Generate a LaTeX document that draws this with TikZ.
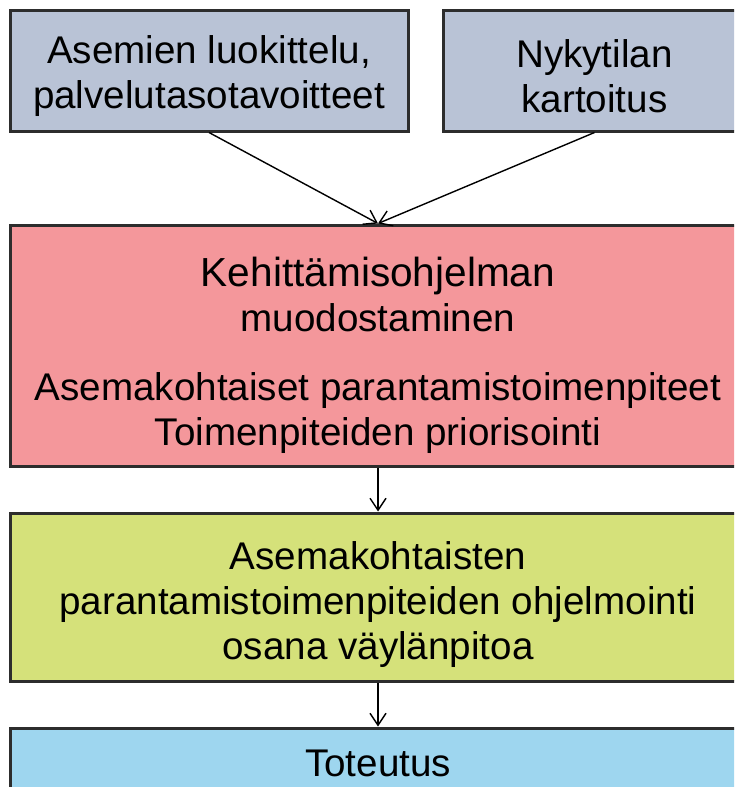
\documentclass[tikz,border=0pt]{standalone}
\usepackage{fontspec}
\setmainfont{Liberation Sans}
\usepackage{xcolor}
\definecolor{mygray}{RGB}{185,195,214}
\definecolor{myred}{RGB}{244,151,155}
\definecolor{mygreen}{RGB}{213,225,122}
\definecolor{myblue}{RGB}{158,214,239}
\definecolor{myline}{RGB}{45,45,45}
\usetikzlibrary{arrows.meta}
\newcommand{\dropline}[1]{\rule{0pt}{#1}}

\begin{document}
\begin{tikzpicture}[x=0.5pt,y=-0.5pt,
    box/.style={draw=myline, line width=1.5pt, inner sep=0pt, align=center,
      font=\fontsize{19.3}{22.5}\selectfont},
    flow/.style={-{Straight Barb[length=6pt,width=8pt]}, line width=0.7pt}]
        \clip (0,0) rectangle (734,787);
        \node[box, fill=mygray, minimum width=199pt, minimum height=60.5pt] (luokittelu) at (209,70.5)
          {\dropline{19.5pt}Asemien luokittelu,\\palvelutasotavoitteet};
        \node[box, fill=mygray, minimum width=151.5pt, minimum height=60.5pt] (kartoitus) at (594.5,70.5)
          {\dropline{19.5pt}Nykytilan\\kartoitus};

        \node[box, fill=myred, minimum width=368pt, minimum height=120.5pt] (ohjelma) at (378,345.5)
          {\fontsize{20.3}{23}\selectfont \dropline{24pt}Kehittämisohjelman\\muodostaminen\\[12pt]
           \fontsize{19.3}{21}\selectfont Asemakohtaiset parantamistoimenpiteet\\Toimenpiteiden priorisointi};

        \node[box, fill=mygreen, minimum width=368pt, minimum height=84pt] (ohjelmointi) at (378,597)
          {\dropline{21pt}Asemakohtaisten\\parantamistoimenpiteiden ohjelmointi\\osana väylänpitoa};

        \node[box, fill=myblue, minimum width=368pt, minimum height=35pt] (toteutus) at (378,763)
          {Toteutus};

        \draw[flow] (luokittelu.south) -- (ohjelma.north);
        \draw[flow] (kartoitus.south) -- (ohjelma.north);
        \draw[flow] (ohjelma.south) -- (ohjelmointi.north);
        \draw[flow] (ohjelmointi.south) -- (toteutus.north);
      \end{tikzpicture}
\end{document}
